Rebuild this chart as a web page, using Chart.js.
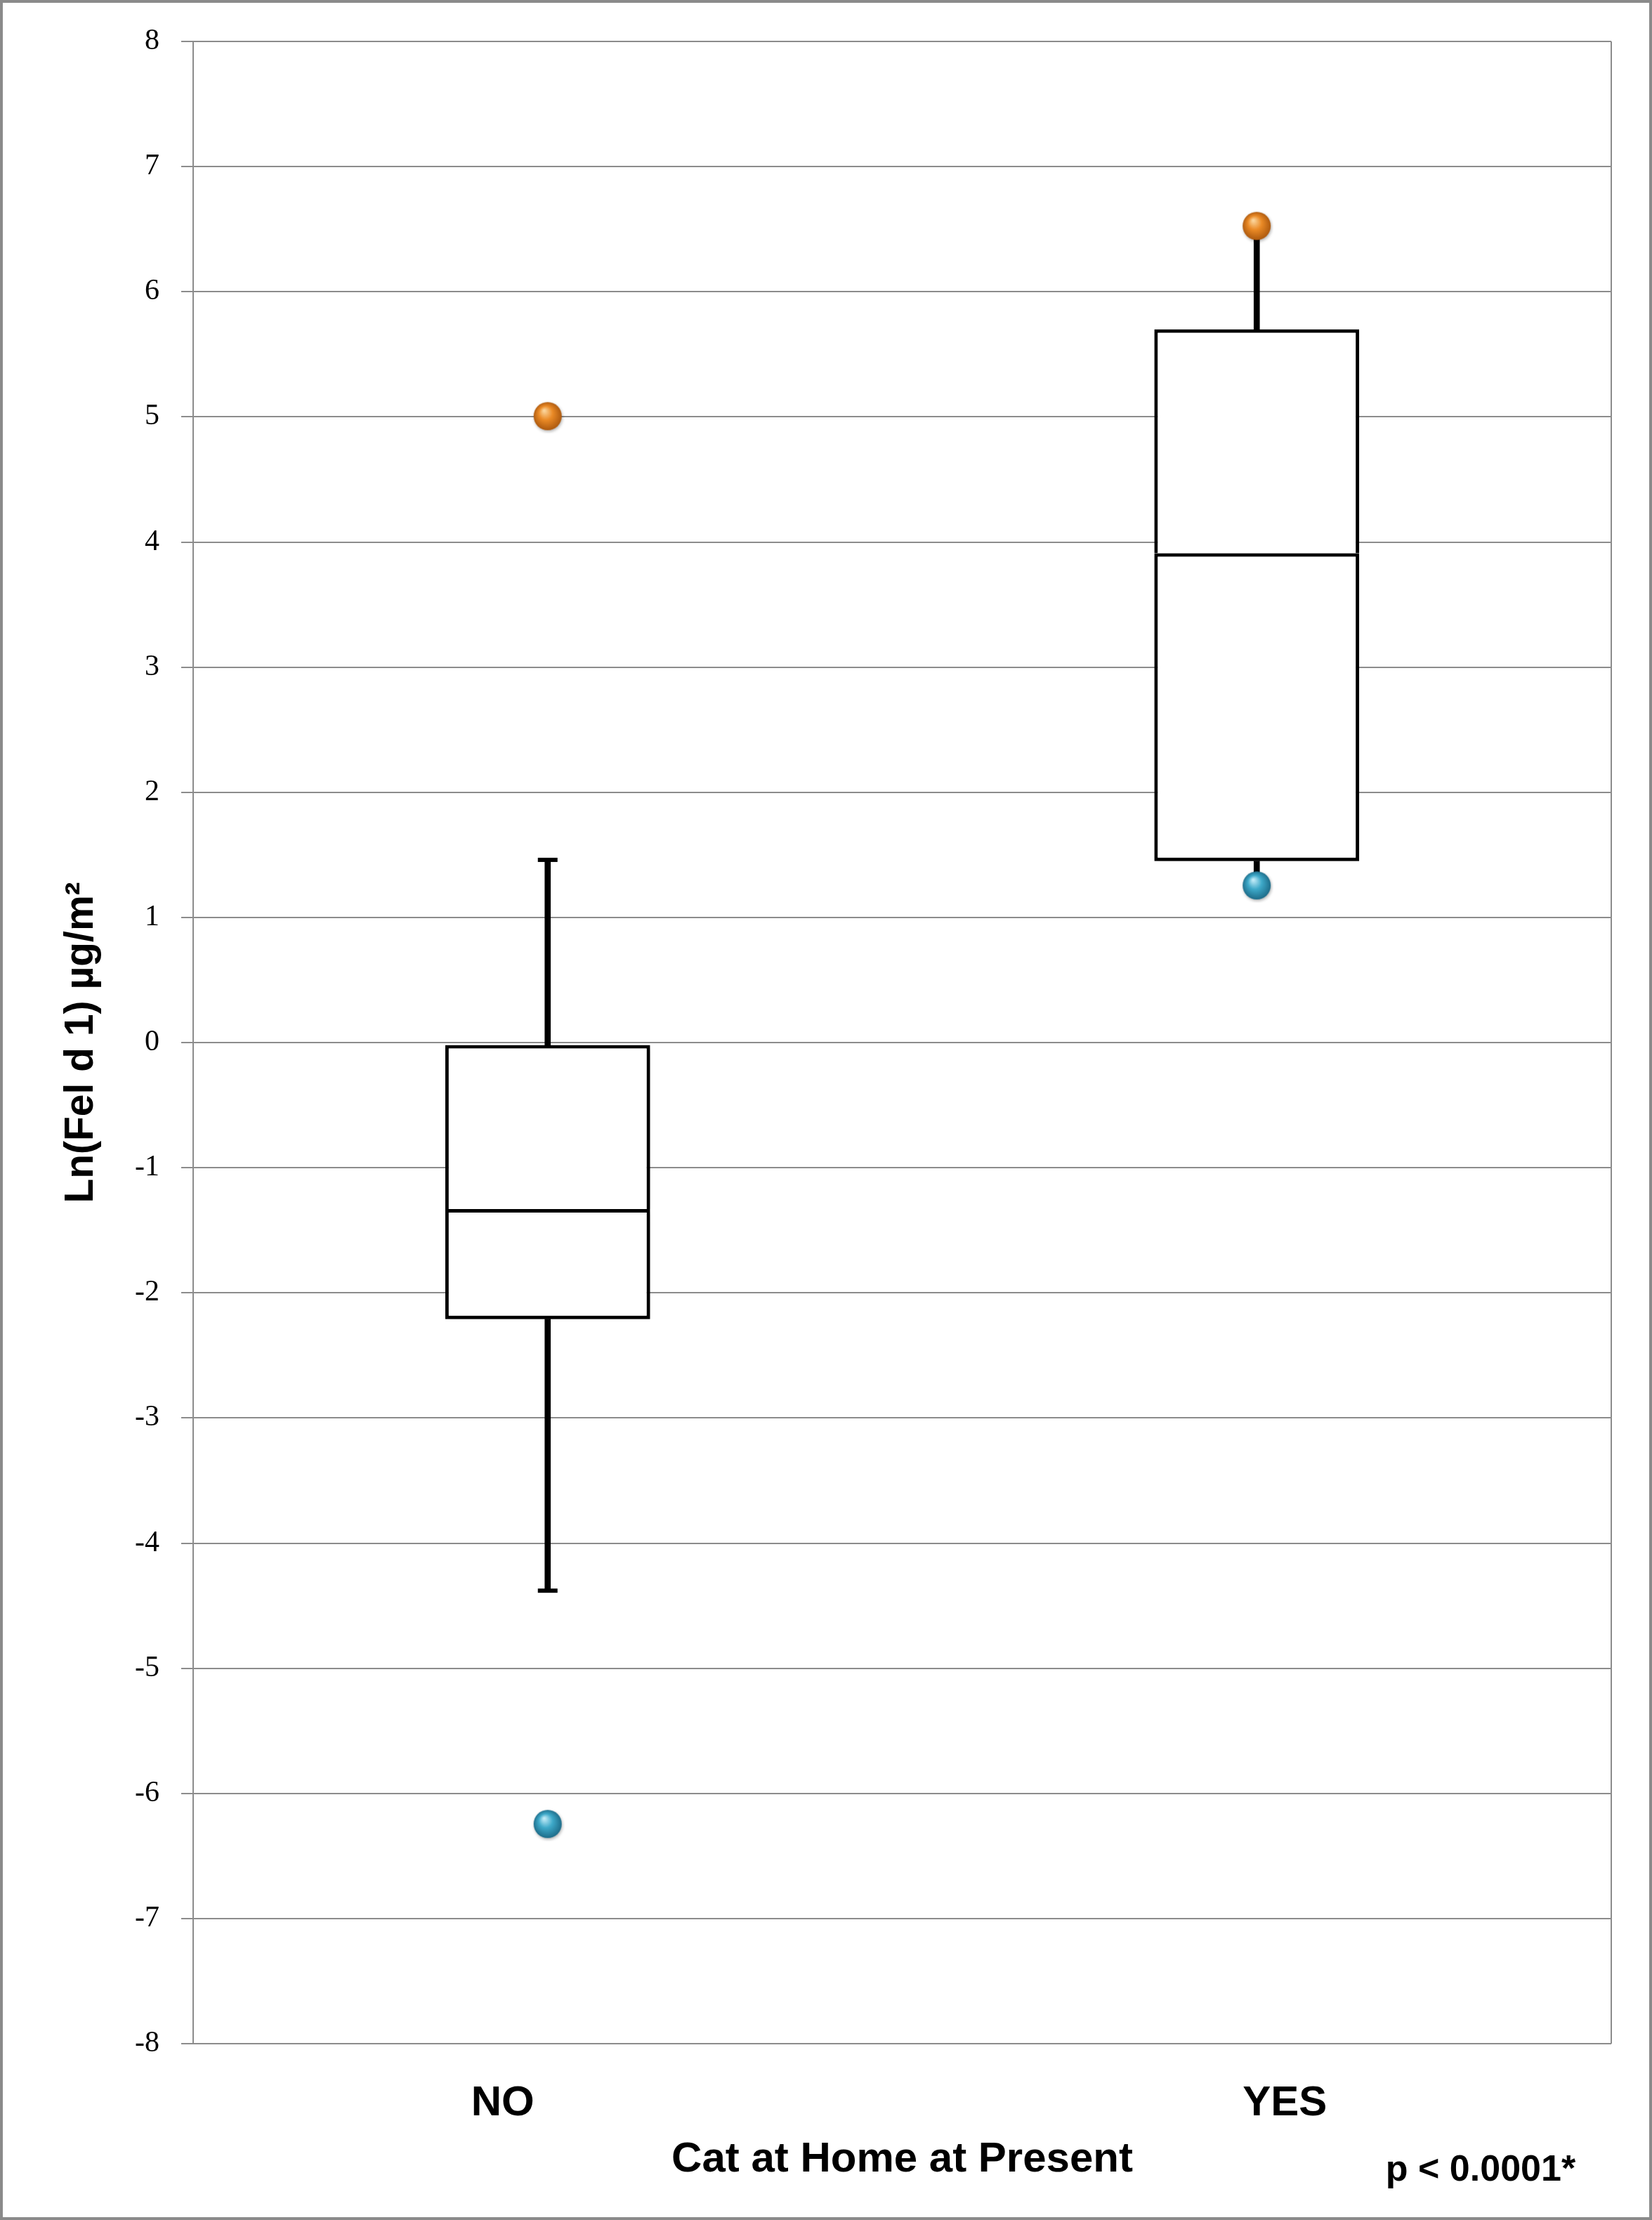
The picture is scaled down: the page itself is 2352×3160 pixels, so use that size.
<!DOCTYPE html>
<html>
<head>
<meta charset="utf-8">
<script src="https://cdn.jsdelivr.net/npm/chart.js@4"></script>
<style>
  html, body { margin: 0; padding: 0; background: #fff; }
  canvas { display: block; }
</style>
</head>
<body>
<canvas id="myChart" width="2352" height="3160"></canvas>
<script>
// categories and box plot values
let categories = ["NO", "YES"];
let q1 = [-2.21, 1.45];
let median = [-1.33, 3.91];
let q3 = [-0.02, 5.70];
let whiskerLow = [-4.38, 1.25];
let whiskerHigh = [1.46, 6.52];
let maxPoint = [5.0, 6.52];
let minPoint = [-6.25, 1.25];
let yTicks = { min: -8, max: 8, step: 1 };

let gridGray = '#8c8c8c';

// little shaded ball used as a point style
function sphere(base, light, dark) {
  let c = document.createElement('canvas');
  c.width = 48; c.height = 48;
  let g = c.getContext('2d');
  g.shadowColor = 'rgba(0,0,0,0.3)';
  g.shadowBlur = 4;
  g.shadowOffsetX = 1;
  g.shadowOffsetY = 2;
  let grad = g.createRadialGradient(19, 15, 1, 24, 23, 21);
  grad.addColorStop(0, light);
  grad.addColorStop(0.45, base);
  grad.addColorStop(1, dark);
  g.fillStyle = grad;
  g.beginPath();
  g.arc(24, 23, 20, 0, Math.PI * 2);
  g.fill();
  return c;
}

let orangeBall = sphere('#ea8a26', '#fbd49a', '#a9560d');
let blueBall = sphere('#3ea9c9', '#bfeaf7', '#1b6885');

// soft drop shadow behind the boxes
let boxShadow = {
  id: 'boxShadow',
  beforeDatasetDraw(chart, args) {
    let ds = chart.data.datasets[args.index];
    if (!ds.label.startsWith('box')) return;
    let ctx = chart.ctx;
    ctx.save();
    ctx.shadowColor = 'rgba(0,0,0,0.28)';
    ctx.shadowBlur = 8;
    ctx.shadowOffsetX = 4;
    ctx.shadowOffsetY = 4;
  },
  afterDatasetDraw(chart, args) {
    let ds = chart.data.datasets[args.index];
    if (!ds.label.startsWith('box')) return;
    chart.ctx.restore();
  }
};

// frame, right border of the plot, category labels and p value
let extras = {
  id: 'extras',
  afterDraw(chart) {
    let ctx = chart.ctx;
    let area = chart.chartArea;
    let x = chart.scales.x;
    ctx.save();
    ctx.strokeStyle = gridGray;
    ctx.lineWidth = 2;
    ctx.beginPath();
    ctx.moveTo(area.right, area.top);
    ctx.lineTo(area.right, area.bottom);
    ctx.stroke();

    ctx.lineWidth = 4;
    ctx.strokeStyle = '#8a8a8a';
    ctx.strokeRect(2, 2, chart.width - 4, chart.height - 4);

    ctx.fillStyle = '#000';
    ctx.textAlign = 'center';
    ctx.textBaseline = 'alphabetic';
    ctx.font = 'bold 60px "Liberation Sans"';
    let labelShift = [-64, 40];
    categories.forEach(function (c, i) {
      ctx.fillText(c, x.getPixelForValue(i) + labelShift[i], 3011);
    });
    ctx.font = 'bold 52px "Liberation Sans"';
    ctx.fillText('p < 0.0001*', 2108, 3104);
    ctx.restore();
  }
};

let ctx = document.getElementById('myChart').getContext('2d');

let boxChart = new Chart(ctx, {
  type: 'bar',
  data: {
    labels: categories,
    datasets: [
      {
        label: 'whiskerUp',
        data: q3.map((v, i) => [v, whiskerHigh[i]]),
        backgroundColor: '#000',
        borderWidth: 0,
        barThickness: 8,
        grouped: false,
        order: 6
      },
      {
        label: 'whiskerDown',
        data: q1.map((v, i) => [whiskerLow[i], v]),
        backgroundColor: '#000',
        borderWidth: 0,
        barThickness: 8,
        grouped: false,
        order: 6
      },
      {
        type: 'line',
        label: 'capHigh',
        data: whiskerHigh,
        showLine: false,
        pointStyle: 'line',
        pointRadius: 14,
        pointBorderWidth: 6,
        pointBorderColor: '#000',
        order: 5
      },
      {
        type: 'line',
        label: 'capLow',
        data: whiskerLow,
        showLine: false,
        pointStyle: 'line',
        pointRadius: 14,
        pointBorderWidth: 6,
        pointBorderColor: '#000',
        order: 5
      },
      {
        label: 'boxUpper',
        data: median.map((v, i) => [v, q3[i]]),
        backgroundColor: '#fff',
        borderColor: '#000',
        borderWidth: { top: 5, left: 5, right: 5, bottom: 0 },
        borderSkipped: false,
        barPercentage: 0.289,
        categoryPercentage: 1,
        grouped: false,
        order: 3
      },
      {
        label: 'boxLower',
        data: q1.map((v, i) => [v, median[i]]),
        backgroundColor: '#fff',
        borderColor: '#000',
        borderWidth: 5,
        borderSkipped: false,
        barPercentage: 0.289,
        categoryPercentage: 1,
        grouped: false,
        order: 2
      },
      {
        type: 'line',
        label: 'max',
        data: maxPoint,
        showLine: false,
        pointStyle: orangeBall,
        pointRadius: 20,
        order: 1
      },
      {
        type: 'line',
        label: 'min',
        data: minPoint,
        showLine: false,
        pointStyle: blueBall,
        pointRadius: 20,
        order: 1
      }
    ]
  },
  options: {
    responsive: false,
    devicePixelRatio: 1,
    animation: false,
    layout: {
      padding: { top: 59, right: 58, bottom: 0, left: 0 }
    },
    plugins: {
      legend: { display: false },
      tooltip: { enabled: false }
    },
    scales: {
      x: {
        grid: { display: false },
        border: { display: false },
        ticks: { display: false },
        title: {
          display: true,
          text: 'Cat at Home at Present',
          color: '#000',
          font: { family: 'Liberation Sans', size: 60, weight: 'bold' },
          padding: { top: 0, bottom: 50 }
        },
        afterFit(scale) { scale.height = 251; }
      },
      y: {
        min: yTicks.min,
        max: yTicks.max,
        ticks: {
          stepSize: yTicks.step,
          color: '#000',
          padding: 31,
          font: { family: 'Liberation Serif', size: 42 }
        },
        grid: {
          color: gridGray,
          lineWidth: 2,
          tickLength: 17,
          tickColor: gridGray
        },
        border: { display: true, color: gridGray, width: 2 },
        title: {
          display: true,
          text: 'Ln(Fel d 1) µg/m²',
          color: '#000',
          font: { family: 'Liberation Sans', size: 57, weight: 'bold' },
          padding: { top: 82, bottom: 0 }
        },
        afterFit(scale) { scale.width = 275; }
      }
    }
  },
  plugins: [boxShadow, extras]
});
</script>
</body>
</html>
